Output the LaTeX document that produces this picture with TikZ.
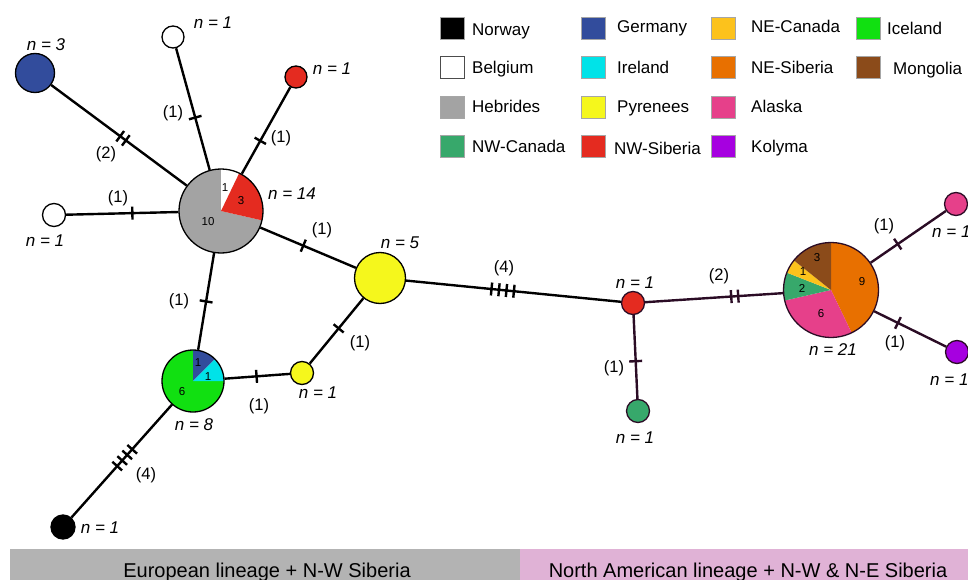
\documentclass[tikz,border=0pt]{standalone}
\usepackage{fontspec}
\setmainfont{Liberation Sans}
\usetikzlibrary{decorations.markings}
\definecolor{cGer}{HTML}{324C9C}
\definecolor{cIre}{HTML}{00E3E8}
\definecolor{cNEC}{HTML}{FCC21C}
\definecolor{cIce}{HTML}{11E011}
\definecolor{cNES}{HTML}{E87000}
\definecolor{cMon}{HTML}{8B4B1A}
\definecolor{cHeb}{HTML}{A3A3A3}
\definecolor{cPyr}{HTML}{F5F71C}
\definecolor{cAla}{HTML}{E6408A}
\definecolor{cNWC}{HTML}{37A86B}
\definecolor{cNWS}{HTML}{E42B20}
\definecolor{cKol}{HTML}{A600E0}
\definecolor{cNA}{HTML}{2B0C25}
\definecolor{barG}{HTML}{B3B3B3}
\definecolor{barP}{HTML}{E0B2D6}
\newcommand{\pieslice}[5]{\fill[#5] (#1) -- ++({-(#3)}:#2) arc[start angle={-(#3)}, end angle={-(#4)}, radius=#2] -- cycle;}
\tikzset{
  hap/.style={circle, draw, line width=1.3, inner sep=0pt, minimum size=#1},
  edge/.style={line width=2.4},
  t1/.style 2 args={postaction={decorate,decoration={markings,mark=at position #1 with {\draw[#2,line width=2.4] (0,-6.5)--(0,6.5);}}}},
  t2/.style 2 args={postaction={decorate,decoration={markings,mark=at position #1 with {\draw[#2,line width=2.4] (-3.5,-6.5)--(-3.5,6.5) (3.5,-6.5)--(3.5,6.5);}}}},
  t4/.style 2 args={postaction={decorate,decoration={markings,mark=at position #1 with {\draw[#2,line width=2.4] (-11.25,-6.5)--(-11.25,6.5) (-3.75,-6.5)--(-3.75,6.5) (3.75,-6.5)--(3.75,6.5) (11.25,-6.5)--(11.25,6.5);}}}},
  lab/.style={inner sep=0pt, font=\fontsize{16.5}{18}\selectfont},
  nlab/.style={inner sep=0pt, font=\fontsize{17}{19}\selectfont\itshape},
  pnum/.style={inner sep=0pt, font=\fontsize{11.5}{13}\selectfont},
  sq/.style={draw=black!35, line width=0.8, minimum width=24, minimum height=22, inner sep=0pt},
  legt/.style={inner sep=0pt, anchor=base west, font=\fontsize{17}{19}\selectfont},
  bart/.style={inner sep=0pt, anchor=base, font=\fontsize{20}{22}\selectfont}
}
\begin{document}
\begin{tikzpicture}[x=1pt,y=-1pt]
\useasboundingbox (0,0) rectangle (968,580);
% bottom bars
\fill[barG] (10,549) rectangle (520,580);
\fill[barP] (520,549) rectangle (968,580);
\node[bart] (bt1) at (267,577) {European lineage + N-W Siberia};
\node[bart] (bt2) at (748,577) {North American lineage + N-W \& N-E Siberia};
% legend
\node[sq, fill=black] (s1) at (452,28) {};
\node[legt] (lt1) at (472,36) {Norway};
\node[sq, fill=white, draw=black!70] (s2) at (452,67) {};
\node[legt] (lt2) at (472,74) {Belgium};
\node[sq, fill=cHeb] (s3) at (452,107) {};
\node[legt] (lt3) at (472,113) {Hebrides};
\node[sq, fill=cNWC] (s4) at (452,146) {};
\node[legt] (lt4) at (472,153) {NW-Canada};
\node[sq, fill=cGer] (s5) at (593.5,28) {};
\node[legt] (lt5) at (617,32.5) {Germany};
\node[sq, fill=cIre] (s6) at (593.5,67) {};
\node[legt] (lt6) at (617,74) {Ireland};
\node[sq, fill=cPyr] (s7) at (593.5,107) {};
\node[legt] (lt7) at (617,113) {Pyrenees};
\node[sq, fill=cNWS] (s8) at (593.5,146) {};
\node[legt] (lt8) at (614,155) {NW-Siberia};
\node[sq, fill=cNEC] (s9) at (723,28) {};
\node[legt] (lt9) at (751,32.5) {NE-Canada};
\node[sq, fill=cNES] (s10) at (723,67) {};
\node[legt] (lt10) at (751,74) {NE-Siberia};
\node[sq, fill=cAla] (s11) at (723,107) {};
\node[legt] (lt11) at (751,113) {Alaska};
\node[sq, fill=cKol] (s12) at (723,146) {};
\node[legt] (lt12) at (751,152.5) {Kolyma};
\node[sq, fill=cIce] (s13) at (868,28) {};
\node[legt] (lt13) at (887,34.5) {Iceland};
\node[sq, fill=cMon] (s14) at (868,67) {};
\node[legt] (lt14) at (893,75) {Mongolia};
% pies
\coordinate (Hc) at (221,211);
\pieslice{Hc}{42}{90}{347.14}{cHeb}
\pieslice{Hc}{42}{64.29}{90}{white}
\pieslice{Hc}{42}{-12.86}{64.29}{cNWS}
\coordinate (Ic) at (193,381);
\pieslice{Ic}{31}{90}{360}{cIce}
\pieslice{Ic}{31}{45}{90}{cGer}
\pieslice{Ic}{31}{0}{45}{cIre}
\coordinate (NAc) at (831,290);
\pieslice{NAc}{47.5}{-64.29}{90}{cNES}
\pieslice{NAc}{47.5}{-167.14}{-64.29}{cAla}
\pieslice{NAc}{47.5}{-201.43}{-167.14}{cNWC}
\pieslice{NAc}{47.5}{-218.57}{-201.43}{cNEC}
\pieslice{NAc}{47.5}{-270}{-218.57}{cMon}
% haplotype nodes
\node[hap=84] (H) at (Hc) {};
\node[hap=39, fill=cGer] (G) at (35,73) {};
\node[hap=22, fill=white] (WT) at (173,37) {};
\node[hap=22, fill=cNWS] (RT) at (296,77) {};
\node[hap=23, fill=white] (WL) at (54,215) {};
\node[hap=51, fill=cPyr] (Y5) at (380,278) {};
\node[hap=23, fill=cPyr] (Y1) at (302,373) {};
\node[hap=62] (I) at (Ic) {};
\node[hap=24, fill=black] (N) at (63,527) {};
\node[hap=23, fill=cNWS, draw=cNA] (RM) at (633,303) {};
\node[hap=23, fill=cNWC, draw=cNA] (GN) at (638,411) {};
\node[hap=95, draw=cNA] (NA) at (NAc) {};
\node[hap=23, fill=cAla, draw=cNA] (P) at (956,204) {};
\node[hap=23, fill=cKol, draw=cNA] (K) at (957,352) {};
% edges
\draw[edge, t2={0.53}{black}] (G) -- (H);
\draw[edge, t1={0.57}{black}] (WT) -- (H);
\draw[edge, t1={0.62}{black}] (RT) -- (H);
\draw[edge, t1={0.59}{black}] (WL) -- (H);
\draw[edge, t1={0.45}{black}] (H) -- (Y5);
\draw[edge, t1={0.50}{black}] (H) -- (I);
\draw[edge, t1={0.49}{black}] (I) -- (Y1);
\draw[edge, t1={0.54}{black}] (Y1) -- (Y5);
\draw[edge, t4={0.47}{black}] (I) -- (N);
\draw[edge, t4={0.45}{black}] (Y5) -- (RM);
\draw[edge, cNA, t2={0.65}{cNA}] (RM) -- (NA);
\draw[edge, cNA, t1={0.55}{cNA}] (RM) -- (GN);
\draw[edge, cNA, t1={0.36}{cNA}] (NA) -- (P);
\draw[edge, cNA, t1={0.33}{cNA}] (NA) -- (K);
% mutation counts
\node[lab] (m1) at (106,154) {(2)};
\node[lab] (m2) at (173,113) {(1)};
\node[lab] (m3) at (281,138) {(1)};
\node[lab] (m4) at (118,198) {(1)};
\node[lab] (m5) at (322,230) {(1)};
\node[lab] (m6) at (179,301) {(1)};
\node[lab] (m7) at (259,406) {(1)};
\node[lab] (m8) at (360,343) {(1)};
\node[lab] (m9) at (146,475) {(4)};
\node[lab] (m10) at (504,268) {(4)};
\node[lab] (m11) at (719,276) {(2)};
\node[lab] (m12) at (614,368) {(1)};
\node[lab] (m13) at (884,226) {(1)};
\node[lab] (m14) at (895,343) {(1)};
% n labels
\node[nlab] (n1) at (46,45) {n = 3};
\node[nlab] (n2) at (213,23) {n = 1};
\node[nlab] (n3) at (332,69) {n = 1};
\node[nlab] (n4) at (292,194) {n = 14};
\node[nlab] (n5) at (45,241) {n = 1};
\node[nlab] (n6) at (400,243) {n = 5};
\node[nlab] (n7) at (318,393) {n = 1};
\node[nlab] (n8) at (194,425) {n = 8};
\node[nlab] (n9) at (100,528) {n = 1};
\node[nlab] (n10) at (635,283) {n = 1};
\node[nlab] (n11) at (635,438) {n = 1};
\node[nlab] (n12) at (833,350) {n = 21};
\node[nlab, anchor=west] (n13) at (932,232) {n = 1};
\node[nlab, anchor=west] (n14) at (930,380) {n = 1};
% pie counts
\node[pnum] (p1) at (225,188) {1};
\node[pnum] (p2) at (241,201) {3};
\node[pnum] (p3) at (208,222) {10};
\node[pnum] (p4) at (198,363) {1};
\node[pnum] (p5) at (208,377) {1};
\node[pnum] (p6) at (182,392) {6};
\node[pnum] (p7) at (817,258) {3};
\node[pnum] (p8) at (803,272) {1};
\node[pnum] (p9) at (802,288) {2};
\node[pnum] (p10) at (821,314) {6};
\node[pnum] (p11) at (862,282) {9};
\end{tikzpicture}
\end{document}
